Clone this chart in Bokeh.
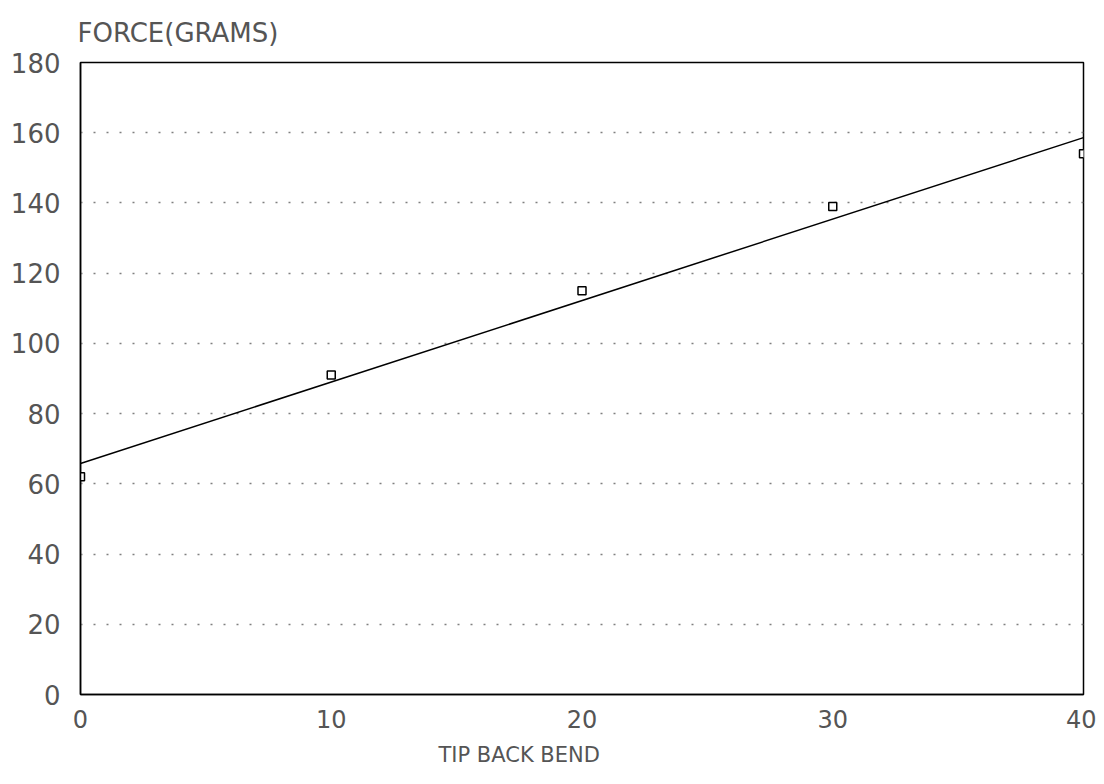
from bokeh.plotting import figure
from bokeh.models import Range1d, FixedTicker, Title
from bokeh.embed import file_html
from bokeh.resources import INLINE

# data
bend = [0, 10, 20, 30, 40]
force = [62, 91, 115, 139, 154]
fit_x = [0, 40]
fit_y = [65.8, 158.6]
x_ticks = [0, 10, 20, 30, 40]
y_ticks = [0, 20, 40, 60, 80, 100, 120, 140, 160, 180]
y_title = "FORCE(GRAMS)"
x_title = "TIP BACK BEND"

FONT = "DejaVu Sans"
TXT = "#555555"

p = figure(width=1096, height=776, output_backend="svg", toolbar_location=None,
           x_range=Range1d(0, 40), y_range=Range1d(0, 180),
           min_border_left=80, min_border_right=13, min_border_top=62, min_border_bottom=81)

p.background_fill_color = "white"
p.border_fill_color = "white"
p.outline_line_color = "black"
p.outline_line_width = 1.5

p.xgrid.grid_line_color = None
p.ygrid.grid_line_color = "#808080"
p.ygrid.grid_line_dash = "2 11"
p.ygrid.grid_line_width = 1.4
p.ygrid.ticker = FixedTicker(ticks=y_ticks[1:-1])

for ax in (p.xaxis[0], p.yaxis[0]):
    ax.axis_line_color = "black"
    ax.axis_line_width = 1.5
    ax.major_tick_line_color = None
    ax.minor_tick_line_color = None
    ax.major_label_text_font = FONT
    ax.major_label_text_color = TXT
p.xaxis[0].major_label_text_font_size = "24px"
p.yaxis[0].major_label_text_font_size = "26px"
p.xaxis[0].major_label_standoff = 9
p.yaxis[0].major_label_standoff = 14

p.xaxis[0].ticker = FixedTicker(ticks=x_ticks)
p.yaxis[0].ticker = FixedTicker(ticks=y_ticks)

p.line(fit_x, fit_y, line_color="black", line_width=1.5)
p.scatter(bend, force, marker="square", size=8, fill_color="white",
          line_color="black", line_width=1.5)

p.title.text = y_title
p.title.align = "left"
p.title.offset = -3
p.title.standoff = 30
p.title.text_font = FONT
p.title.text_font_style = "normal"
p.title.text_color = TXT
p.title.text_font_size = "26px"

p.add_layout(Title(text=x_title, align="left", offset=358, text_font=FONT,
                   text_font_style="normal", text_color=TXT, text_font_size="21px",
                   standoff=20), "below")

open("out.html", "w").write(file_html(p, INLINE))
